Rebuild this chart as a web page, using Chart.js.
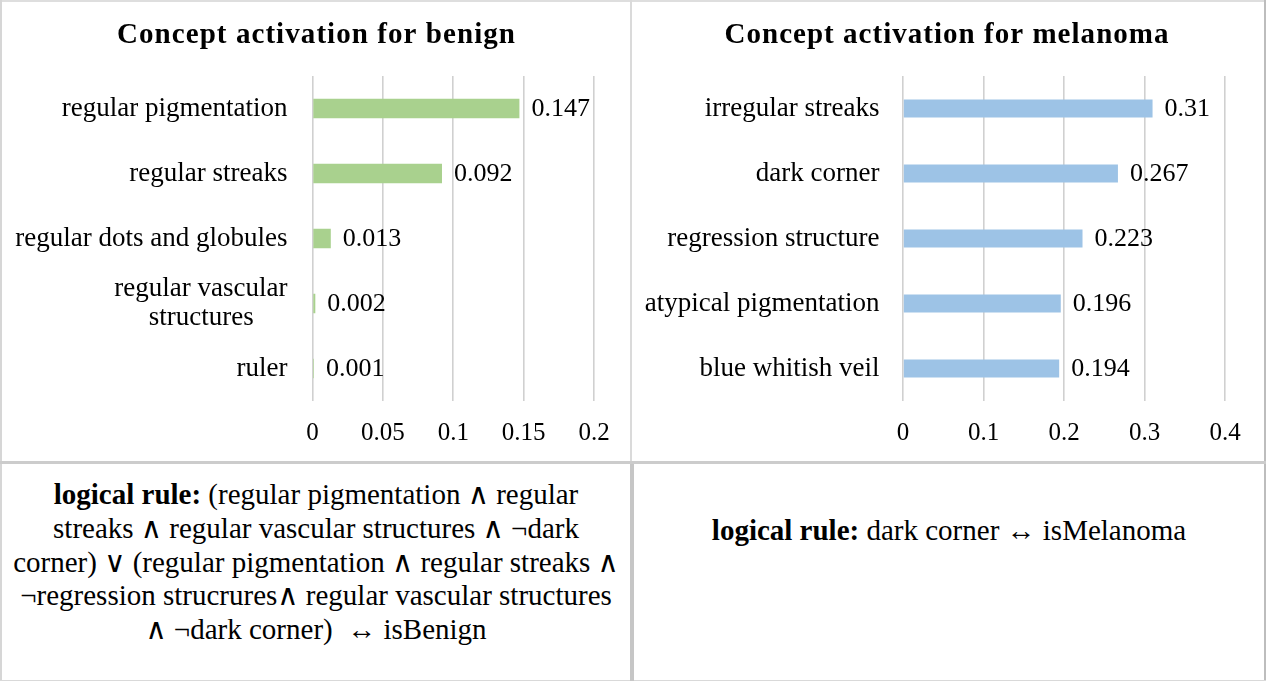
<!DOCTYPE html>
<html>
<head>
<meta charset="utf-8">
<script src="https://cdn.jsdelivr.net/npm/chart.js@4.4.1/dist/chart.umd.min.js"></script>
<style>
html,body{margin:0;padding:0;background:#fff;}
body{width:1266px;height:681px;position:relative;overflow:hidden;font-family:"Liberation Serif","DejaVu Serif","Times New Roman",serif;color:#000;}
.cv{position:absolute;top:0;height:461px;}
.ln{position:absolute;}
.rule{position:absolute;text-align:center;white-space:nowrap;font-size:29px;line-height:33.75px;}
.rule b{font-weight:bold;}
</style>
</head>
<body>
<div class="cv" style="left:2px;width:628px;"><canvas id="c1"></canvas></div>
<div class="cv" style="left:633px;width:631px;"><canvas id="c2"></canvas></div>

<div class="ln" style="left:0;top:0;width:1266px;height:2px;background:#dedede;"></div>
<div class="ln" style="left:0;top:0;width:2px;height:681px;background:#d6d6d6;"></div>
<div class="ln" style="left:1264px;top:0;width:2px;height:681px;background:#bdbdbd;"></div>
<div class="ln" style="left:0;top:680px;width:1266px;height:1px;background:#d9d9d9;"></div>
<div class="ln" style="left:630px;top:0;width:2px;height:461px;background:#dadada;"></div>
<div class="ln" style="left:0;top:461px;width:1266px;height:3px;background:#cccccc;"></div>
<div class="ln" style="left:630px;top:464px;width:4px;height:217px;background:#c6c6c6;"></div>

<div class="rule" id="r1" style="left:2px;width:628px;top:478px;"></div>
<div class="rule" id="r2" style="left:634px;width:630px;top:514px;"></div>

<script>
// ---- data ----
const benignTitle = 'Concept activation for benign';
const benignLabels = ['regular pigmentation', 'regular streaks', 'regular dots and globules', ['regular vascular', 'structures     '], 'ruler'];
const benignValues = [0.147, 0.092, 0.013, 0.002, 0.001];
const benignTicks = [0, 0.05, 0.1, 0.15, 0.2];

const melanomaTitle = 'Concept activation for melanoma';
const melanomaLabels = ['irregular streaks', 'dark corner', 'regression structure', 'atypical pigmentation', 'blue whitish veil'];
const melanomaValues = [0.31, 0.267, 0.223, 0.196, 0.194];
const melanomaTicks = [0, 0.1, 0.2, 0.3, 0.4];

const benignRuleLines = [
  ['logical rule:', ' (regular pigmentation \u2227 regular'],
  ['', 'streaks \u2227 regular vascular structures \u2227 \u00acdark'],
  ['', 'corner) \u2228 (regular pigmentation \u2227 regular streaks \u2227'],
  ['', '\u00acregression strucrures\u2227 regular vascular structures'],
  ['', '\u2227 \u00acdark corner) \u00a0\u2194 isBenign']
];
const melanomaRuleLines = [
  ['logical rule:', ' dark corner \u2194 isMelanoma']
];

// ---- rule text ----
function fillRule(el, lines) {
  lines.forEach((ln, i) => {
    if (i > 0) el.appendChild(document.createElement('br'));
    if (ln[0]) { const b = document.createElement('b'); b.textContent = ln[0]; el.appendChild(b); }
    el.appendChild(document.createTextNode(ln[1]));
  });
}
fillRule(document.getElementById('r1'), benignRuleLines);
fillRule(document.getElementById('r2'), melanomaRuleLines);

// ---- plugins ----
const spacedTitle = {
  id: 'spacedTitle',
  afterDraw(chart, args, opts) {
    const ctx = chart.ctx;
    ctx.save();
    ctx.font = 'bold ' + opts.size + 'px "Liberation Serif", "Times New Roman", serif';
    if ('letterSpacing' in ctx) ctx.letterSpacing = '0px';
    const w0 = ctx.measureText(opts.text).width;
    let total = w0;
    if ('letterSpacing' in ctx) {
      const sp = Math.max(0, (opts.width - w0) / (opts.text.length - 1));
      ctx.letterSpacing = sp + 'px';
      total = w0 + sp * (opts.text.length - 1);
    }
    ctx.fillStyle = '#000';
    ctx.textAlign = 'left';
    ctx.textBaseline = 'alphabetic';
    ctx.fillText(opts.text, opts.cx - total / 2, opts.y);
    ctx.restore();
  }
};

const valueLabels = {
  id: 'valueLabels',
  afterDatasetsDraw(chart, args, opts) {
    const ctx = chart.ctx;
    const meta = chart.getDatasetMeta(0);
    const data = chart.data.datasets[0].data;
    ctx.save();
    ctx.font = opts.size + 'px "Liberation Serif", "Times New Roman", serif';
    ctx.fillStyle = '#000';
    ctx.textAlign = 'left';
    ctx.textBaseline = 'middle';
    meta.data.forEach((bar, i) => {
      ctx.fillText(String(data[i]), bar.x + opts.offset, bar.y + 1);
    });
    ctx.restore();
  }
};

function makeChart(id, title, labels, values, ticks, color, cfg) {
  return new Chart(document.getElementById(id), {
    type: 'bar',
    data: {
      labels: labels,
      datasets: [{
        data: values,
        backgroundColor: color,
        borderWidth: 0,
        barPercentage: cfg.barPct,
        categoryPercentage: 1
      }]
    },
    options: {
      indexAxis: 'y',
      responsive: true,
      maintainAspectRatio: false,
      animation: false,
      layout: { padding: { left: 0, right: cfg.padRight, top: 76, bottom: 13 } },
      plugins: {
        legend: { display: false },
        tooltip: { enabled: false },
        title: { display: false },
        spacedTitle: { text: title, size: 29, width: cfg.titleWidth, cx: cfg.titleCx, y: 43 },
        valueLabels: { size: 26, offset: 12 }
      },
      scales: {
        x: {
          type: 'linear',
          min: ticks[0],
          max: ticks[ticks.length - 1],
          afterBuildTicks: (s) => { s.ticks = ticks.map(v => ({ value: v })); },
          afterFit: (s) => { s.height = 47; },
          grid: { color: '#d0d0d0', lineWidth: 1.6, drawTicks: false },
          border: { display: false },
          ticks: {
            color: '#000',
            padding: 17,
            maxRotation: 0,
            autoSkip: false,
            font: { family: '"Liberation Serif", "Times New Roman", serif', size: 25, lineHeight: 1.2 },
            callback: (v) => String(v)
          }
        },
        y: {
          afterFit: (s) => { s.width = cfg.yWidth; },
          grid: { display: false, drawTicks: false },
          border: { display: false },
          ticks: {
            color: '#000',
            padding: cfg.tickPad,
            crossAlign: 'near',
            autoSkip: false,
            font: { family: '"Liberation Serif", "Times New Roman", serif', size: 27, lineHeight: 1.1 }
          }
        }
      }
    },
    plugins: [spacedTitle, valueLabels]
  });
}

makeChart('c1', benignTitle, benignLabels, benignValues, benignTicks, '#A9D18E',
  { barPct: 0.3, padRight: 36, yWidth: 310.5, tickPad: 25, titleWidth: 398, titleCx: 314 });
makeChart('c2', melanomaTitle, melanomaLabels, melanomaValues, melanomaTicks, '#9DC3E6',
  { barPct: 0.28, padRight: 39, yWidth: 270, tickPad: 23.5, titleWidth: 444, titleCx: 313.5 });
</script>
</body>
</html>
